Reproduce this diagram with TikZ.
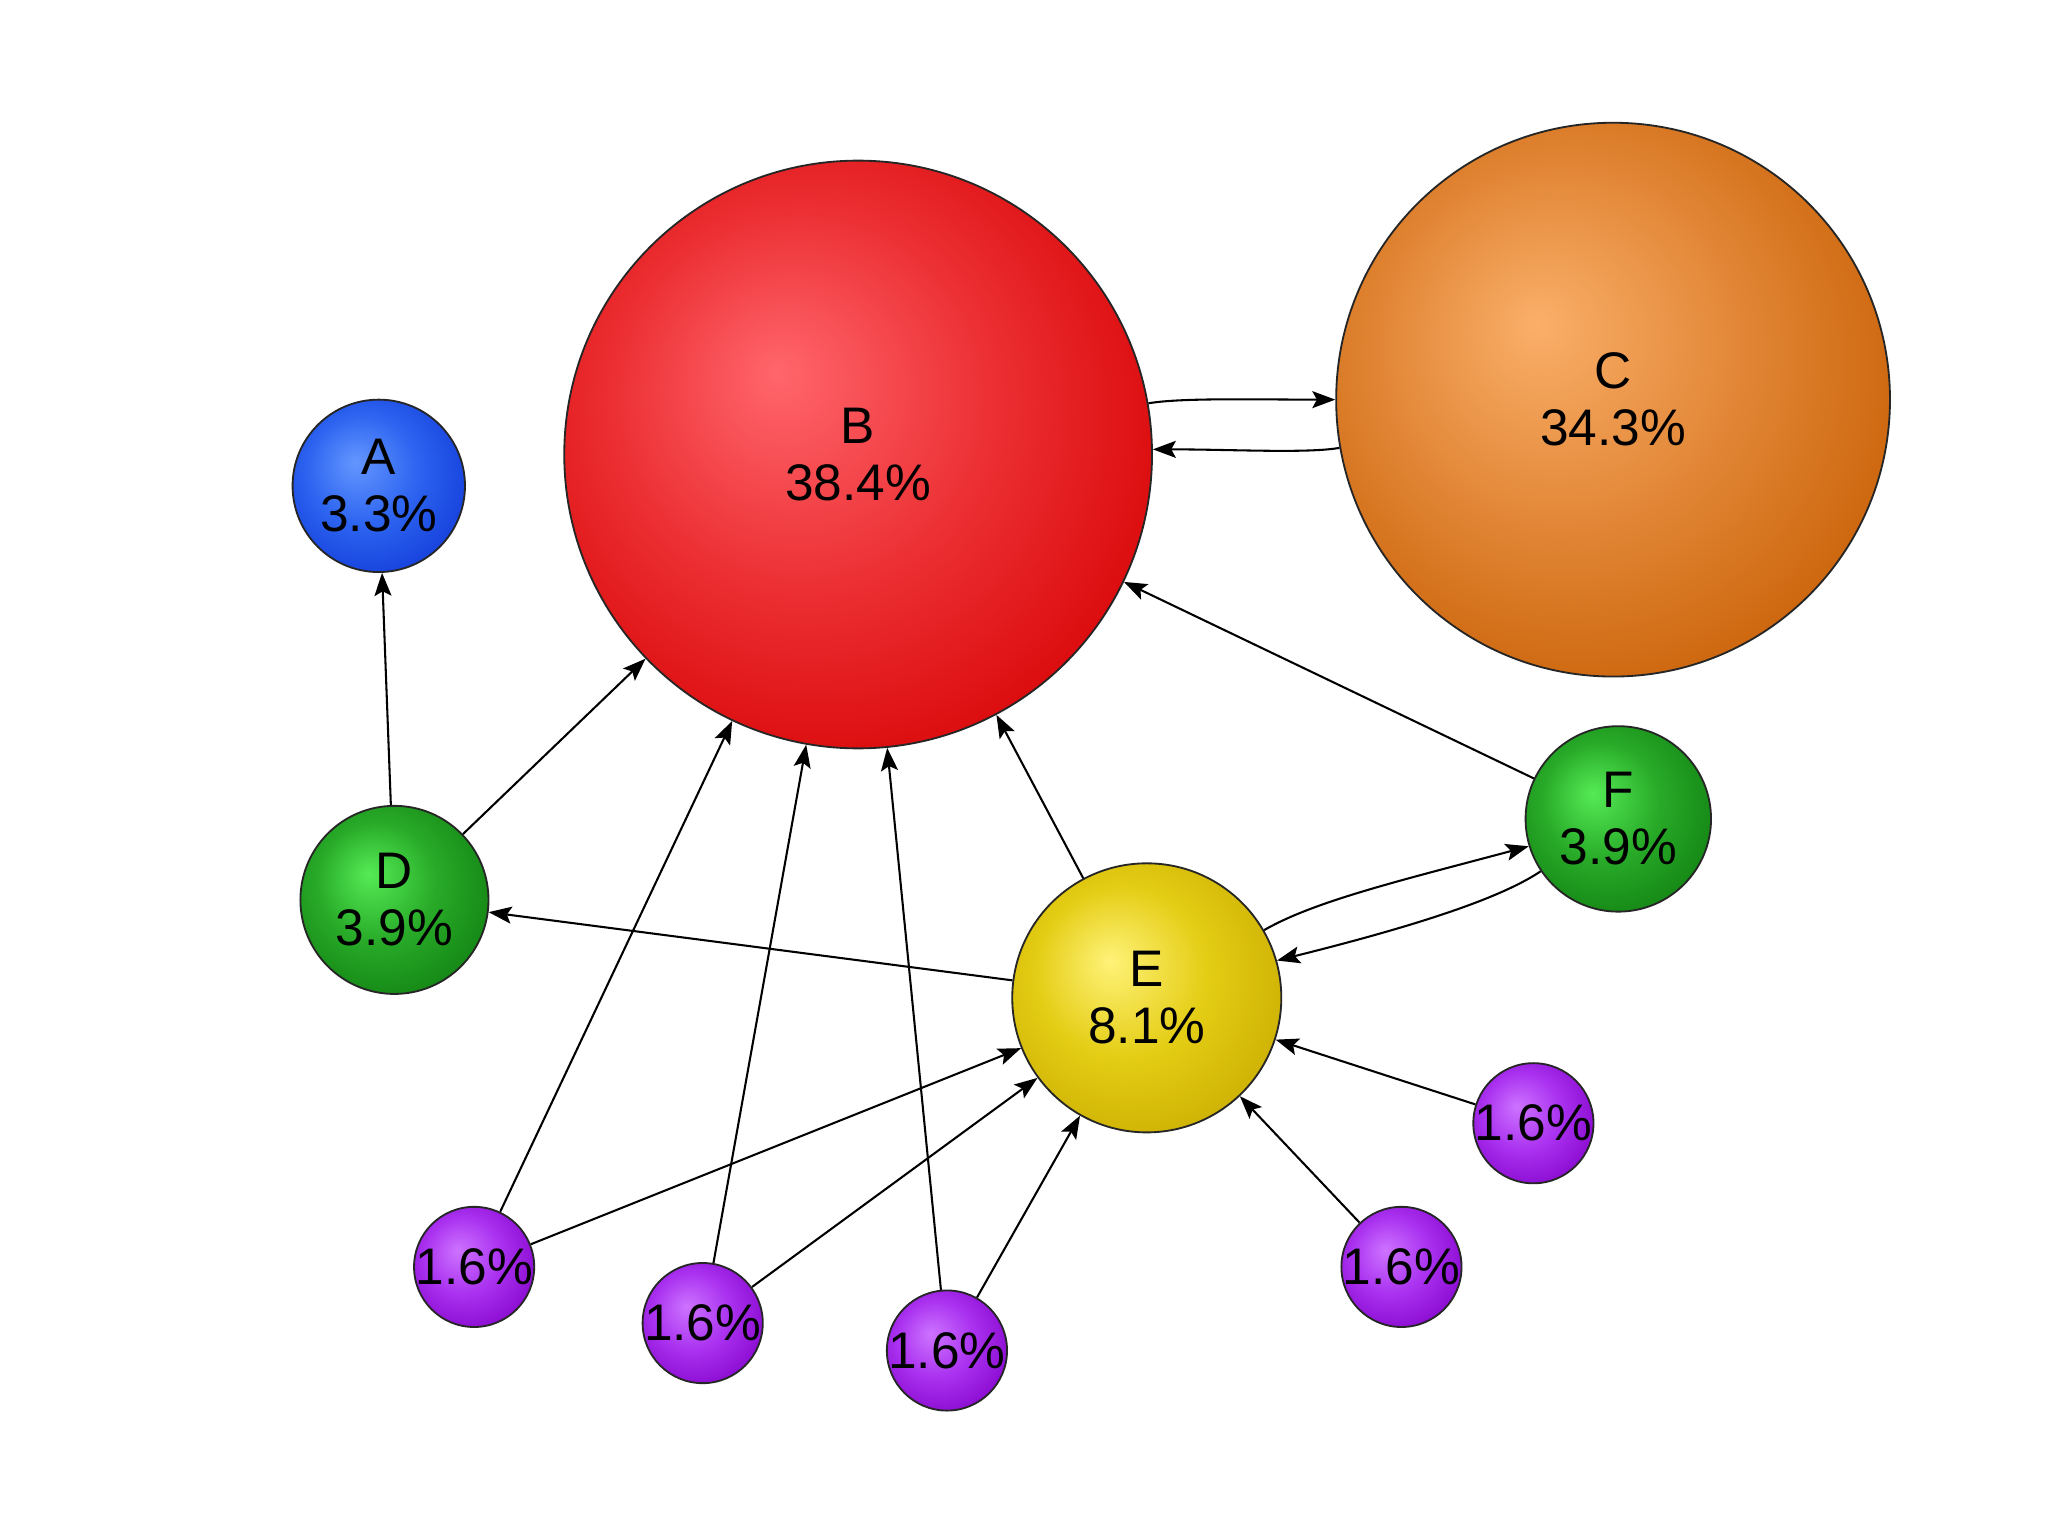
\documentclass[tikz,border=0pt]{standalone}
\usepackage{fontspec}
\setmainfont{Liberation Sans}
\usepackage{tikz}
\usetikzlibrary{arrows.meta}

% sphere look: light spot up left, darker rim
\pgfdeclareradialshading[ballin,ballmid,ballout]{glossy}{\pgfpoint{-7bp}{7bp}}{%
	color(0bp)=(ballin); color(16bp)=(ballmid); color(34bp)=(ballout); color(50bp)=(ballout)}

\definecolor{ain}{RGB}{100,150,255}
\definecolor{amid}{RGB}{45,100,240}
\definecolor{aout}{RGB}{15,55,215}
\definecolor{bin}{RGB}{255,102,108}
\definecolor{bmid}{RGB}{236,48,52}
\definecolor{bout}{RGB}{214,0,0}
\definecolor{cin}{RGB}{250,175,105}
\definecolor{cmid}{RGB}{226,135,55}
\definecolor{cout}{RGB}{198,92,0}
\definecolor{gin}{RGB}{85,235,85}
\definecolor{gmid}{RGB}{40,170,40}
\definecolor{gout}{RGB}{15,125,15}
\definecolor{ein}{RGB}{255,242,120}
\definecolor{emid}{RGB}{228,205,20}
\definecolor{eout}{RGB}{200,170,0}
\definecolor{pin}{RGB}{205,115,255}
\definecolor{pmid}{RGB}{170,50,240}
\definecolor{pout}{RGB}{130,0,200}

\begin{document}
\begin{tikzpicture}
	
	\useasboundingbox[fill=white] (0,0) rectangle (15.68,11.76);
	
	\tikzset{vertex/.style = {shape=circle,draw=black!85,line width=0.4pt,inner sep=0pt,align=center,shading=glossy,font=\fontsize{11.2pt}{12.4pt}\selectfont}}
	\tikzset{tint/.style n args = {3}{/utils/exec={\colorlet{ballin}{#1}\colorlet{ballmid}{#2}\colorlet{ballout}{#3}}}}
	\tikzset{edge/.style = {-{Stealth[length=5pt,width=3.7pt,inset=1pt]},line width=0.45pt}}
	
	\node[vertex,minimum size=1.32cm,tint={ain}{amid}{aout}] (A) at (2.90,8.04) {A\\3.3\%};
	\node[vertex,minimum size=4.50cm,tint={bin}{bmid}{bout}] (B) at (6.57,8.28) {B\\38.4\%};
	\node[vertex,minimum size=4.24cm,tint={cin}{cmid}{cout}] (C) at (12.35,8.70) {C\\34.3\%};
	\node[vertex,minimum size=1.44cm,tint={gin}{gmid}{gout}] (D) at (3.02,4.87) {D\\3.9\%};
	\node[vertex,minimum size=2.06cm,tint={ein}{emid}{eout}] (E) at (8.78,4.12) {E\\8.1\%};
	\node[vertex,minimum size=1.42cm,tint={gin}{gmid}{gout}] (F) at (12.39,5.49) {F\\3.9\%};
	
	\tikzset{vertex/.append style = {minimum size=0.92cm,tint={pin}{pmid}{pout}}}
	\node[vertex] (p1) at (3.63,2.06) {\makebox[0pt]{1.6\%}};
	\node[vertex] (p2) at (5.38,1.63) {\makebox[0pt]{1.6\%}};
	\node[vertex] (p3) at (7.25,1.42) {\makebox[0pt]{1.6\%}};
	\node[vertex] (p4) at (10.73,2.06) {\makebox[0pt]{1.6\%}};
	\node[vertex] (p5) at (11.74,3.16) {\makebox[0pt]{1.6\%}};
	
	\draw[edge] (D) to (A);
	\draw[edge] (D) to (B);
	\draw[edge] (E) to (D);
	\draw[edge] (E) to (B);
	\draw[edge] (F) to (B);
	\draw[edge] (p1) to (B);
	\draw[edge] (p1) to (E);
	\draw[edge] (p2) to (B);
	\draw[edge] (p2) to (E);
	\draw[edge] (p3) to (B);
	\draw[edge] (p3) to (E);
	\draw[edge] (p4) to (E);
	\draw[edge] (p5) to (E);
	
	% links both ways
	\draw[edge] (B.10) .. controls +(10:0.25) and +(-0.6,0) .. (C.180);
	\draw[edge] (C.190) .. controls +(190:0.25) and +(0.6,0) .. (B.1);
	\draw[edge] (E.30) .. controls +(30:0.45) and +(195:1.0) .. (F.197);
	\draw[edge] (F.214) .. controls +(214:0.4) and +(14:1.0) .. (E.16);
\end{tikzpicture}
\end{document}
